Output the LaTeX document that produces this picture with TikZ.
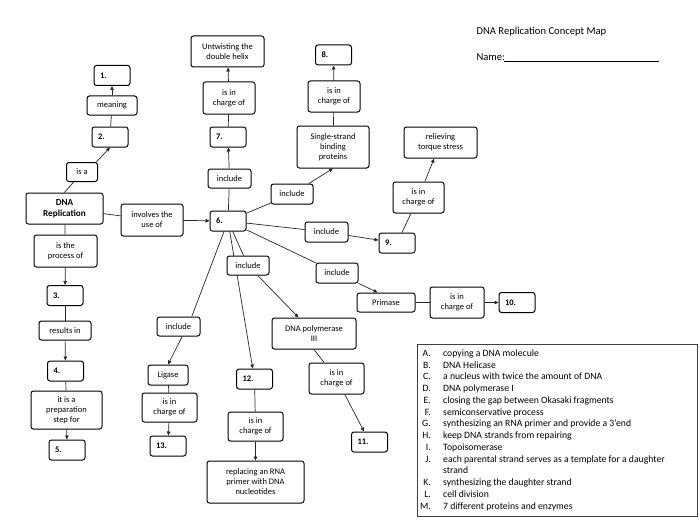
\documentclass[tikz,border=0pt]{standalone}
\usepackage{fontspec}
\setmainfont{Carlito}
\usetikzlibrary{arrows.meta, backgrounds}

\begin{document}
\begin{tikzpicture}[
    x=1pt, y=-1pt,
box/.style = {draw, line width=1pt, rounded corners=2.5pt, fill=white, align=center,
              inner sep=1pt, font=\fontsize{8.5}{10}\selectfont},
num/.style = {box, font=\fontsize{8.5}{10}\selectfont\bfseries, text width=24pt,
              align=left, inner xsep=6pt, minimum height=20pt},
wh/.style 2 args = {minimum width=#1pt, minimum height=#2pt},
link/.style = {line width=0.7pt, black!85},
arr/.style  = {link, -{Triangle[length=4pt,width=3.5pt]}}
                        ]
\useasboundingbox (0,0) rectangle (700,524);
% title
\node (title) [anchor=base west, font=\fontsize{10.6}{12}\selectfont] at (473,34.5)
    {DNA Replication Concept Map};
\node (name)  [anchor=base west, font=\fontsize{10.6}{12}\selectfont] at (473,61) {Name:};
\draw[line width=0.7pt] (504,61.7) -- (659,61.7);
% left column
\node (n1)      [num]          at (112,75.5)  {1.};
\node (meaning) [box,wh={50}{19}] at (112,105.5) {meaning};
\node (n2)      [num]          at (110,137)   {2.};
\node (isa)     [box,wh={31}{19}] at (82,172)    {is a};
\node (dna)     [box,wh={77}{31},font=\fontsize{9.2}{11}\selectfont\bfseries]
                               at (64.5,208.5) {DNA\\Replication};
\node (involve) [box,wh={62}{32}] at (152,220)   {involves the\\use of};
\node (process) [box,wh={63}{32}] at (65.5,251)  {is the\\process of};
\node (n3)      [num]          at (65,295.5)  {3.};
\node (results) [box,wh={52}{19}] at (65,330.5)  {results in};
\node (n4)      [num]          at (65.5,371)  {4.};
\node (prep)    [box,wh={71}{38}] at (66.5,410)  {it is a\\preparation\\step for};
\node (n5)      [num]          at (67,450)    {5.};
% hub
\node (n6)      [num]          at (228,221)   {6.};
\node (inc7)    [box,wh={43}{19}] at (229.5,178.5) {include};
\node (n7)      [num]          at (228,137)   {7.};
\node (chg7)    [box,wh={52}{32}] at (229,98)    {is in\\charge of};
\node (untwist) [box,wh={73}{31}] at (227.5,51.5) {Untwisting the\\double helix};
\node (incS)    [box,wh={42}{20}] at (292,194)   {include};
\node (ssb)     [box,wh={72}{42}] at (333,147)   {Single-strand\\binding\\proteins};
\node (chg8)    [box,wh={52}{31}] at (334,96.5)  {is in\\charge of};
\node (n8)      [num]          at (333.5,55)  {8.};
\node (inc9)    [box,wh={43}{20}] at (326.5,232) {include};
\node (n9)      [num]          at (397,243)   {9.};
\node (chg9)    [box,wh={51}{31}] at (418.5,197.5) {is in\\charge of};
\node (relieve) [box,wh={73}{31}] at (440.5,142.5) {relieving\\torque stress};
\node (incP)    [box,wh={42}{20}] at (337,273)   {include};
\node (primase) [box,wh={58}{19}] at (386,302.5) {Primase};
\node (chg10)   [box,wh={54}{31}] at (457,302.5) {is in\\charge of};
\node (n10)     [num]          at (517,302.5) {10.};
\node (incM)    [box,wh={42}{19}] at (248,265.5) {include};
\node (pol3)    [box,wh={84}{31}] at (314,333.5) {DNA polymerase\\III};
\node (chg11)   [box,wh={55}{31}] at (336.5,378.5) {is in\\charge of};
\node (n11)     [num]          at (369.5,442) {11.};
\node (n12)     [num]          at (254.5,379) {12.};
\node (chg12)   [box,wh={55}{29}] at (255.5,426.5) {is in\\charge of};
\node (replace) [box,wh={97}{42}] at (255.5,482) {replacing an RNA\\primer with DNA\\nucleotides};
\node (incL)    [box,wh={43}{19}] at (178.5,326.5) {include};
\node (ligase)  [box,wh={40}{20}] at (168,375)   {Ligase};
\node (chgL)    [box,wh={55}{29}] at (169.5,407.5) {is in\\charge of};
\node (n13)     [num]          at (168,446)   {13.};
% connectors
\begin{scope}[on background layer]
\draw[link] (n2) -- (meaning);
\draw[arr]  (meaning) -- (n1);
\draw[link] (dna.north) -- (isa.-130);
\draw[arr]  (isa.35) -- (n2.south);
\draw[link] (dna) -- (involve);
\draw[arr]  (involve) -- (n6);
\draw[link] (dna) -- (process);
\draw[arr]  (process) -- (n3);
\draw[link] (n3) -- (results);
\draw[arr]  (results) -- (n4);
\draw[link] (n4) -- (prep);
\draw[arr]  (prep) -- (n5);
%
\draw[link] (n6) -- (inc7);
\draw[arr]  (inc7) -- (n7);
\draw[link] (n7) -- (chg7);
\draw[arr]  (chg7) -- (untwist);
\draw[link] (n6) -- (incS);
\draw[arr]  (incS) -- (ssb.south);
\draw[link] (ssb) -- (chg8);
\draw[arr]  (chg8) -- (n8);
\draw[link] (n6) -- (inc9);
\draw[arr]  (inc9) -- (n9);
\draw[link] (n9) -- (chg9);
\draw[arr]  (chg9) -- (relieve);
\draw[link] (n6) -- (incP);
\draw[arr]  (incP) -- (primase.130);
\draw[link] (primase) -- (chg10);
\draw[arr]  (chg10) -- (n10);
\draw[link] (n6) -- (incM);
\draw[arr]  (incM) -- (pol3);
\draw[link] (pol3.south) -- (chg11);
\draw[arr]  (chg11) -- (n11);
\draw[arr]  (n6) -- (n12);
\draw[link] (n12) -- (chg12);
\draw[arr]  (chg12) -- (replace);
\draw[link] (n6) -- (incL.37);
\draw[arr]  (incL.-70) -- (ligase.north);
\draw[link] (ligase) -- (chgL);
\draw[arr]  (chgL) -- (n13);
\end{scope}
% answer key
\node (key) [draw=black!75, line width=0.9pt, minimum width=280pt, minimum height=172pt]
    at (557,430) {};
\foreach \l/\t [count=\i] in {A./copying a DNA molecule, B./DNA Helicase,
    C./a nucleus with twice the amount of DNA, D./DNA polymerase I,
    E./closing the gap between Okasaki fragments, F./semiconservative process,
    G./synthesizing an RNA primer and provide a 3’end, H./keep DNA strands from repairing,
    I./Topoisomerase, J./each parental strand serves as a template for a daughter,
    {}/strand, K./synthesizing the daughter strand, L./cell division,
    M./7 different proteins and enzymes}
{
\node (letter\i) [anchor=base east, inner sep=0pt, font=\fontsize{9.7}{11}\selectfont]
    at (431,{356.3+(\i-1)*11.75}) {\l};
\node (item\i)   [anchor=base west, inner sep=0pt, font=\fontsize{9.7}{11}\selectfont]
    at (443,{356.3+(\i-1)*11.75}) {\t};
}
    \end{tikzpicture}
\end{document}
